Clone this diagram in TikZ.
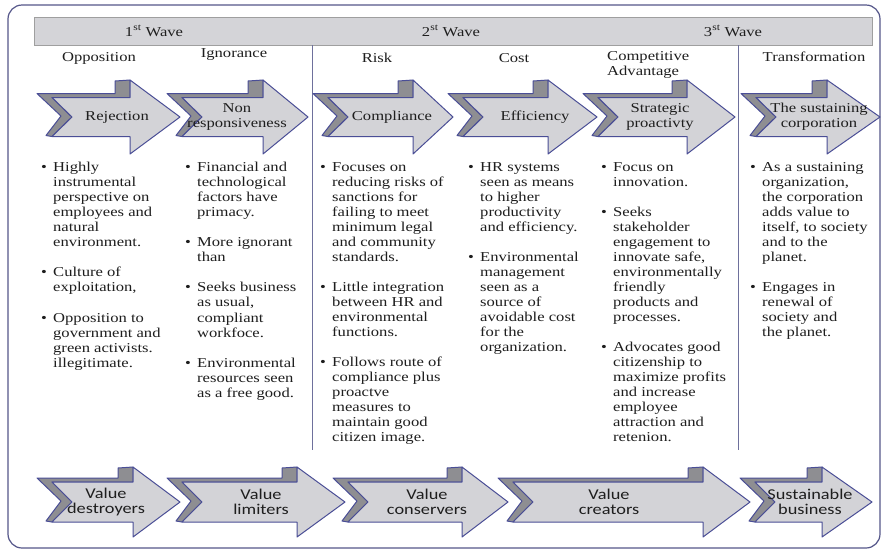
\documentclass[tikz,border=0pt]{standalone}
\usepackage{fontspec}
\setmainfont[FakeStretch=1.22]{Liberation Serif}
\newfontfamily\calibsans[FakeStretch=1.22]{Carlito}
\usetikzlibrary{positioning}

\definecolor{framecol}{HTML}{55578A}
\definecolor{arrline}{HTML}{4A4E96}
\definecolor{arrlight}{HTML}{D3D3D7}
\definecolor{arrdark}{HTML}{8E8E92}
\definecolor{barfill}{HTML}{D4D4D8}
\definecolor{txt}{HTML}{1E1E1E}

\newcommand\colbul{\makebox[12pt][l]{\textbullet}}
\newcommand\colind{\hspace*{12pt}}
\newcommand\arrbody{19.5}
\newcommand\arrhead{37}
% #1 label style, #2 name, #3 tail x, #4 head x, #5 tip x, #6 mid y, #7 label x, #8 label
\newcommand\wavearrow[8]{%
  \draw[arrback] ({#3-15},{#6-\arrbody-4}) -- ({#4-15},{#6-\arrbody-4})
    -- ({#4-15},{#6-\arrhead+1}) -- (#4,{#6-\arrhead}) -- (#4,{#6-\arrbody})
    -- (#3,{#6-\arrbody}) -- ({#3+20},#6) -- (#3,{#6+\arrbody})
    -- ({#3-6},{#6+\arrbody-1}) -- ({#3+9},{#6-1}) -- cycle;
  \draw[arrfront] (#3,{#6-\arrbody}) -- (#4,{#6-\arrbody}) -- (#4,{#6-\arrhead})
    -- (#5,#6) -- (#4,{#6+\arrhead}) -- (#4,{#6+\arrbody}) -- (#3,{#6+\arrbody})
    -- ({#3+20},#6) -- cycle;
  \node[#1] (#2) at (#7,#6) {#8};}

\begin{document}
\begin{tikzpicture}[
  x=1pt, y=-1pt,
  frame/.style={draw=framecol, line width=1.2pt, rounded corners=14pt},
  bar/.style={draw=gray!75, fill=barfill, line width=0.8pt},
  divider/.style={draw=framecol!85, line width=0.9pt},
  arrfront/.style={draw=arrline, fill=arrlight, line width=1pt, line join=round},
  arrback/.style={draw=arrline, fill=arrdark, line width=1pt, line join=round},
  serlabel/.style={align=center, text=txt, inner sep=0pt,
                   font=\fontsize{13.6}{15}\selectfont},
  sanslabel/.style={align=center, text=txt, inner sep=0pt,
                    font=\calibsans\fontsize{15}{15}\selectfont},
  wave/.style={text=txt, font=\fontsize{13.6}{15}\selectfont},
  head/.style={text=txt, align=left, inner sep=0pt,
               font=\fontsize{13.6}{15.5}\selectfont},
  col/.style={anchor=north west, inner sep=0pt, align=left, text=txt,
              font=\fontsize{13.6}{15.05}\selectfont}
]
  \useasboundingbox[fill=white] (0,0) rectangle (882,550);
  \draw[frame] (8,5) rectangle (880,548);

  % waves
  \draw[bar] (34,17) rectangle (872,45);
  \node[wave] (w1) at (154,31) {1\textsuperscript{st} Wave};
  \node[wave] (w2) at (451,31) {2\textsuperscript{st} Wave};
  \node[wave] (w3) at (733,31) {3\textsuperscript{st} Wave};
  \draw[divider] (312,45) -- (312,450);
  \draw[divider] (738,45) -- (738,450);

  % stance headers
  \node[head] (hopp) at (99,58) {Opposition};
  \node[head] (hign) at (234,55) {Ignorance};
  \node[head] (hrisk) at (377,58) {Risk};
  \node[head] (hcost) at (514,58) {Cost};
  \node[head, anchor=west] (hcomp) at (607,65) {Competitive\\Advantage};
  \node[head] (htrans) at (814,57) {Transformation};

  % top arrows
  \wavearrow{serlabel}{rej}{52}{130}{180}{117}{117}{Rejection}
  \wavearrow{serlabel}{nonresp}{182}{263}{308}{117}{237}{Non\\responsiveness}
  \wavearrow{serlabel}{compl}{328}{413}{453}{117}{392}{Compliance}
  \wavearrow{serlabel}{effic}{463}{548}{597}{117}{535}{Efficiency}
  \wavearrow{serlabel}{strat}{598}{687}{735}{117}{660}{Strategic\\proactivty}
  \wavearrow{serlabel}{sustcorp}{756}{827}{880}{117}{819}{The sustaining\\corporation}

  % columns
  \node[col] (c1) at (41,162) {\colbul Highly\\ \colind instrumental\\
    \colind perspective on\\ \colind employees and\\ \colind natural\\
    \colind environment.\\[15pt]
    \colbul Culture of\\ \colind exploitation,\\[15pt]
    \colbul Opposition to\\ \colind government and\\
    \colind green activists.\\ \colind illegitimate.};
  \node[col] (c2) at (185,162) {\colbul Financial and\\ \colind technological\\
    \colind factors have\\ \colind primacy.\\[15pt]
    \colbul More ignorant\\ \colind than\\[15pt]
    \colbul Seeks business\\ \colind as usual,\\ \colind compliant\\
    \colind workfoce.\\[15pt]
    \colbul Environmental\\ \colind resources seen\\ \colind as a free good.};
  \node[col] (c3) at (320,162) {\colbul Focuses on\\ \colind reducing risks of\\
    \colind sanctions for\\ \colind failing to meet\\ \colind minimum legal\\
    \colind and community\\ \colind standards.\\[15pt]
    \colbul Little integration\\ \colind between HR and\\
    \colind environmental\\ \colind functions.\\[15pt]
    \colbul Follows route of\\ \colind compliance plus\\ \colind proactve\\
    \colind measures to\\ \colind maintain good\\ \colind citizen image.};
  \node[col] (c4) at (468,162) {\colbul HR systems\\ \colind seen as means\\
    \colind to higher\\ \colind productivity\\ \colind and efficiency.\\[15pt]
    \colbul Environmental\\ \colind management\\ \colind seen as a\\
    \colind source of\\ \colind avoidable cost\\ \colind for the\\
    \colind organization.};
  \node[col] (c5) at (601,162) {\colbul Focus on\\ \colind innovation.\\[15pt]
    \colbul Seeks\\ \colind stakeholder\\ \colind engagement to\\
    \colind innovate safe,\\ \colind environmentally\\ \colind friendly\\
    \colind products and\\ \colind processes.\\[15pt]
    \colbul Advocates good\\ \colind citizenship to\\ \colind maximize profits\\
    \colind and increase\\ \colind employee\\ \colind attraction and\\
    \colind retenion.};
  \node[col] (c6) at (750,162) {\colbul As a sustaining\\ \colind organization,\\
    \colind the corporation\\ \colind adds value to\\ \colind itself, to society\\
    \colind and to the\\ \colind planet.\\[15pt]
    \colbul Engages in\\ \colind renewal of\\ \colind society and\\
    \colind the planet.};

  % bottom arrows
  \renewcommand\arrbody{20}
  \renewcommand\arrhead{35}
  \wavearrow{sanslabel}{vdestr}{52}{133}{180}{502}{106}{Value\\destroyers}
  \wavearrow{sanslabel}{vlimit}{182}{297}{345}{502}{261}{Value\\limiters}
  \wavearrow{sanslabel}{vcons}{348}{462}{508}{502}{427}{Value\\conservers}
  \wavearrow{sanslabel}{vcreat}{513}{703}{750}{502}{609}{Value\\creators}
  \wavearrow{sanslabel}{sustbus}{755}{822}{872}{502}{810}{Sustainable\\business}
\end{tikzpicture}
\end{document}
